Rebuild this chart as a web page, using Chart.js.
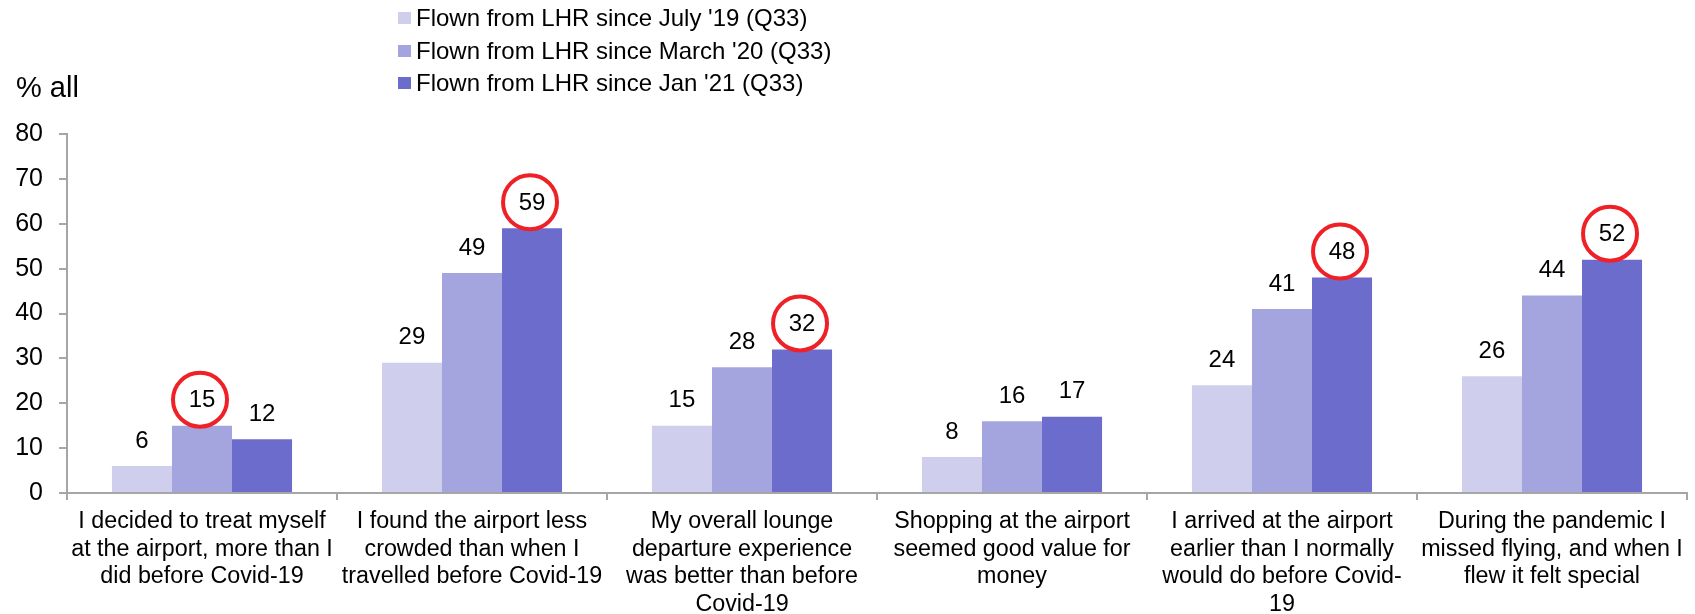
<!DOCTYPE html>
<html>
<head>
<meta charset="utf-8">
<script src="https://cdn.jsdelivr.net/npm/chart.js@4/dist/chart.umd.min.js"></script>
<style>
  body { margin: 0; background: #fff; font-family: "Liberation Sans", Arial, sans-serif; }
  #wrap { position: relative; width: 1695px; height: 614px; }
  #yTitle { position: absolute; left: 16px; top: 70px; font-size: 29px; line-height: 34px; color: #000; }
  #legend { position: absolute; left: 398px; top: 2px; font-size: 24px; color: #000; }
  #legend .row { height: 32.4px; display: flex; align-items: center; }
  #legend .sw { width: 13px; height: 12px; margin-right: 5px; }
</style>
</head>
<body>
<div id="wrap">
  <canvas id="chart" width="1695" height="614"></canvas>
  <div id="yTitle">% all</div>
  <div id="legend"></div>
</div>
<script>
var categories = [
    ['I decided to treat myself', 'at the airport, more than I', 'did before Covid-19'],
    ['I found the airport less', 'crowded than when I', 'travelled before Covid-19'],
    ['My overall lounge', 'departure experience', 'was better than before', 'Covid-19'],
    ['Shopping at the airport', 'seemed good value for', 'money'],
    ['I arrived at the airport', 'earlier than I normally', 'would do before Covid-', '19'],
    ['During the pandemic I', 'missed flying, and when I', 'flew it felt special']
];

var seriesNames = [
    "Flown from LHR since July '19 (Q33)",
    "Flown from LHR since March '20 (Q33)",
    "Flown from LHR since Jan '21 (Q33)"
];

var july19 = [6, 29, 15, 8, 24, 26];
var march20 = [15, 49, 28, 16, 41, 44];
var jan21 = [12, 59, 32, 17, 48, 52];

// which value labels get a red ring
var ringJuly19 = [0, 0, 0, 0, 0, 0];
var ringMarch20 = [1, 0, 0, 0, 0, 0];
var ringJan21 = [0, 1, 1, 0, 1, 1];

var yTicks = [0, 10, 20, 30, 40, 50, 60, 70, 80];

var colors = ['#CFCFED', '#A4A4DE', '#6C6CCC'];
var rings = [ringJuly19, ringMarch20, ringJan21];
var font = '"Liberation Sans", Arial, sans-serif';

// Legend
var legend = document.getElementById('legend');
seriesNames.forEach(function (name, i) {
    var row = document.createElement('div');
    row.className = 'row';
    row.innerHTML = '<span class="sw" style="background:' + colors[i] + '"></span><span>' + name.replace(/'/g, '&#39;') + '</span>';
    legend.appendChild(row);
});

// Value labels and red rings
var valueLabels = {
    id: 'valueLabels',
    afterDatasetsDraw: function (chart) {
        var ctx = chart.ctx;
        ctx.save();
        ctx.font = '24px ' + font;
        ctx.textAlign = 'center';
        ctx.textBaseline = 'middle';
        chart.data.datasets.forEach(function (ds, di) {
            chart.getDatasetMeta(di).data.forEach(function (bar, i) {
                var y = bar.y - 25;
                ctx.fillStyle = '#000';
                ctx.fillText(ds.data[i], bar.x, y);
                if (rings[di][i]) {
                    ctx.beginPath();
                    ctx.lineWidth = 4;
                    ctx.strokeStyle = '#EE2127';
                    ctx.arc(bar.x - 2, y - 1, 27, 0, Math.PI * 2);
                    ctx.stroke();
                }
            });
        });
        ctx.restore();
    }
};

new Chart(document.getElementById('chart'), {
    type: 'bar',
    data: {
        labels: categories,
        datasets: [
            { label: seriesNames[0], data: july19, backgroundColor: colors[0] },
            { label: seriesNames[1], data: march20, backgroundColor: colors[1] },
            { label: seriesNames[2], data: jan21, backgroundColor: colors[2] }
        ]
    },
    options: {
        responsive: false,
        animation: false,
        devicePixelRatio: 1,
        layout: { padding: { top: 134, right: 8, left: 0, bottom: 0 } },
        plugins: {
            legend: { display: false },
            tooltip: { enabled: false }
        },
        datasets: {
            bar: { categoryPercentage: 0.667, barPercentage: 1 }
        },
        scales: {
            x: {
                afterFit: function (scale) { scale.height = 121; },
                grid: { display: true, drawOnChartArea: false, offset: true, tickLength: 7, color: '#A6A6A6', lineWidth: 2 },
                border: { color: '#A6A6A6', width: 2 },
                ticks: {
                    color: '#000',
                    padding: 8,
                    maxRotation: 0,
                    autoSkip: false,
                    font: { family: font, size: 23.3, lineHeight: 1.18 }
                }
            },
            y: {
                min: 0,
                max: 80,
                afterFit: function (scale) { scale.width = 67; },
                afterBuildTicks: function (scale) {
                    scale.ticks = yTicks.map(function (v) { return { value: v }; });
                },
                grid: { display: true, drawOnChartArea: false, tickLength: 8, color: '#A6A6A6', lineWidth: 2 },
                border: { color: '#A6A6A6', width: 2 },
                ticks: {
                    color: '#000',
                    padding: 16,
                    font: { family: font, size: 25 }
                }
            }
        }
    },
    plugins: [valueLabels]
});
</script>
</body>
</html>
